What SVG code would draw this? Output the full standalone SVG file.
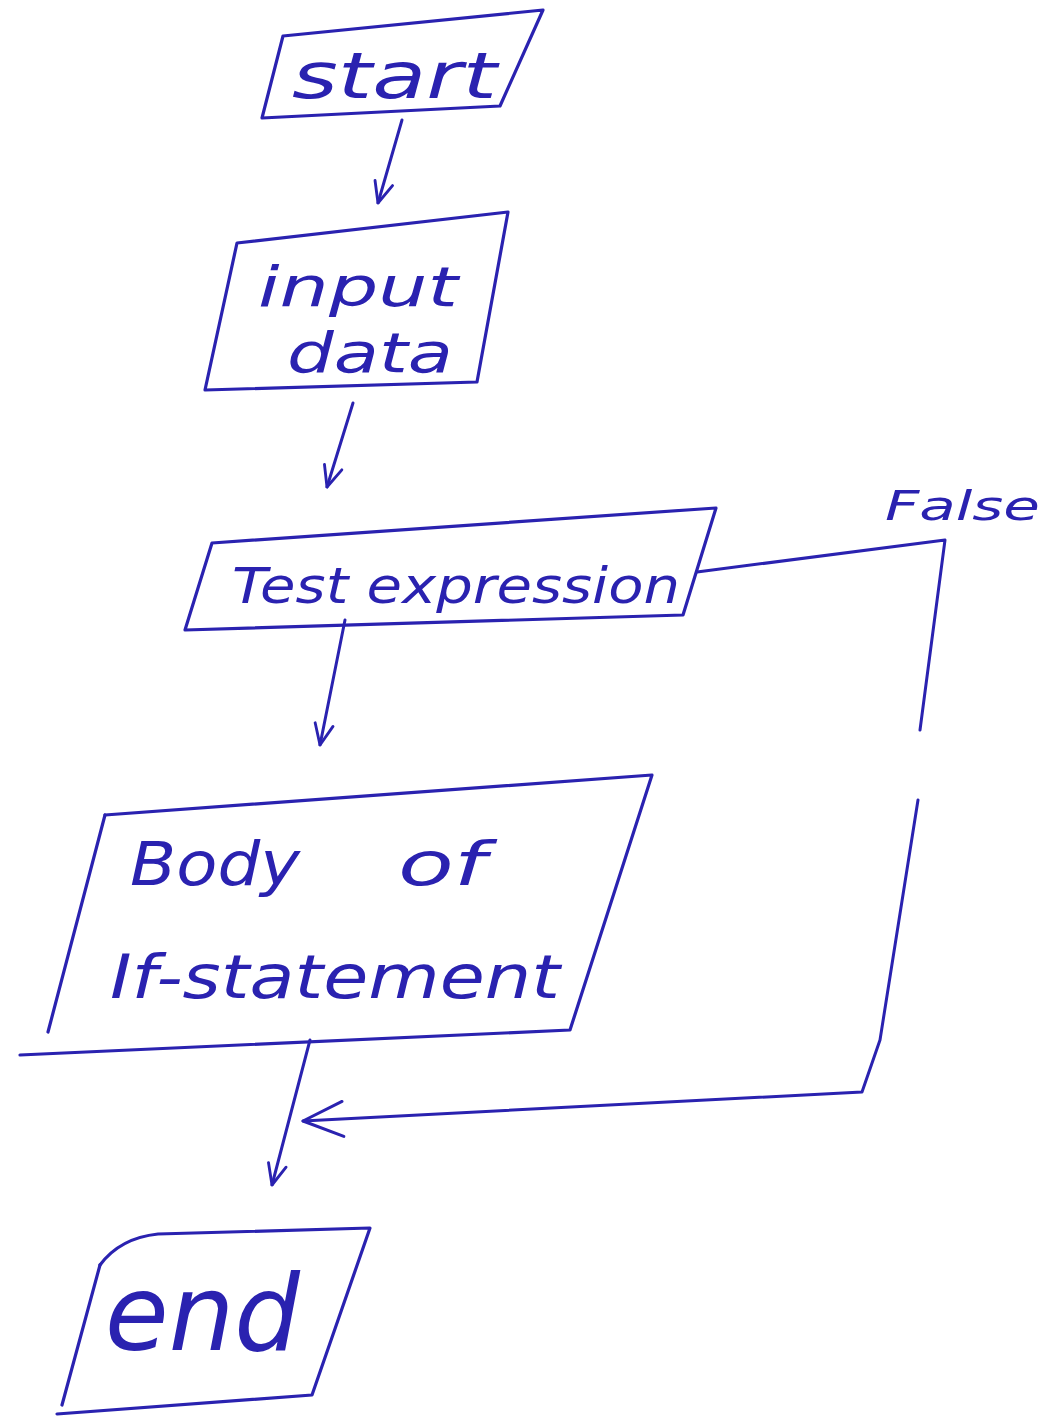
<svg xmlns="http://www.w3.org/2000/svg" width="1056" height="1427" viewBox="0 0 1056 1427">
<style>
.box{fill:none;stroke:#2a22b0;stroke-width:3.2;stroke-linejoin:round;stroke-linecap:round}
.con{fill:none;stroke:#2a22b0;stroke-width:3;stroke-linecap:round;stroke-linejoin:round}
.t{font-family:"DejaVu Sans","Liberation Sans",sans-serif;font-style:italic;fill:#2a22b0}
</style>
<defs>
<marker id="arr" viewBox="0 0 20 20" refX="19" refY="10" markerWidth="26" markerHeight="26" markerUnits="userSpaceOnUse" orient="auto">
<path d="M3,3 L19,10 L3,17" fill="none" stroke="#2a22b0" stroke-width="2.2" stroke-linecap="round" stroke-linejoin="round"/>
</marker>
<marker id="arrL" viewBox="0 0 20 20" refX="19" refY="10" markerWidth="50" markerHeight="50" markerUnits="userSpaceOnUse" orient="auto">
<path d="M3,3 L19,10 L3,17" fill="none" stroke="#2a22b0" stroke-width="1.2" stroke-linecap="round" stroke-linejoin="round"/>
</marker>
</defs>
<rect width="1056" height="1427" fill="#ffffff"/>

<g id="start">
<path class="box" d="M283,36 L543,10 L500,106 L262,118 Z"/>
<text class="t" x="292" y="98" font-size="64" textLength="205" lengthAdjust="spacingAndGlyphs">start</text>
</g>

<g id="input">
<path class="box" d="M237,243 L508,212 L477,382 L205,390 Z"/>
<text class="t" x="258" y="306" font-size="56" textLength="200" lengthAdjust="spacingAndGlyphs">input</text>
<text class="t" x="287" y="372" font-size="56" textLength="166" lengthAdjust="spacingAndGlyphs">data</text>
</g>

<g id="test">
<path class="box" d="M212,543 L716,508 L683,615 L185,630 Z"/>
<text class="t" x="232" y="603" font-size="50" textLength="448" lengthAdjust="spacingAndGlyphs">Test expression</text>
</g>

<g id="false-label">
<text class="t" x="885" y="520" font-size="40" textLength="155" lengthAdjust="spacingAndGlyphs">False</text>
</g>

<g id="body">
<path class="box" d="M105,815 L652,775 L570,1030 L20,1055"/>
<path class="box" d="M105,815 L48,1032"/>
<text class="t" y="885" font-size="60"><tspan x="130" textLength="170" lengthAdjust="spacingAndGlyphs">Body</tspan><tspan x="398" textLength="88" lengthAdjust="spacingAndGlyphs">of</tspan></text>
<text class="t" x="110" y="998" font-size="60" textLength="450" lengthAdjust="spacingAndGlyphs">If-statement</text>
</g>

<g id="end">
<path class="box" d="M100,1265 Q120,1238 158,1234 L370,1228 L312,1395 L57,1414"/>
<path class="box" d="M100,1265 L62,1405"/>
<text class="t" x="105" y="1350" font-size="105" textLength="195" lengthAdjust="spacingAndGlyphs">end</text>
</g>

<g id="connectors">
<path class="con" d="M402,120 L378,203" marker-end="url(#arr)"/>
<path class="con" d="M353,403 L327,487" marker-end="url(#arr)"/>
<path class="con" d="M345,620 L320,745" marker-end="url(#arr)"/>
<path class="con" d="M310,1040 L272,1185" marker-end="url(#arr)"/>
<path class="con" d="M697,572 L945,540 L920,730"/>
<path class="con" d="M918,800 L880,1040 L862,1092 L303,1121" marker-end="url(#arrL)"/>
</g>
</svg>
